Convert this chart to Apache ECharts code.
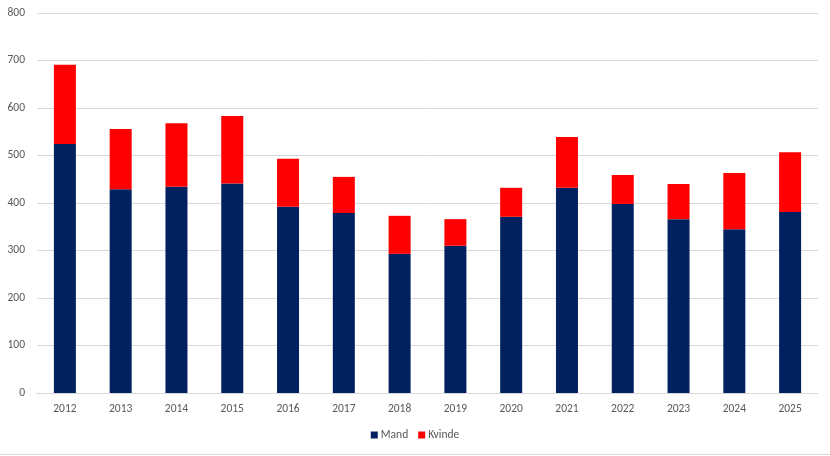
<!DOCTYPE html>
<html><head><meta charset="utf-8">
<script src="https://cdn.jsdelivr.net/npm/echarts@6/dist/echarts.min.js"></script>
<style>html,body{margin:0;padding:0;background:#fff}#c{width:830px;height:456px}</style>
</head><body><div id="c"></div>
<script>
const years = ['2012','2013','2014','2015','2016','2017','2018','2019','2020','2021','2022','2023','2024','2025'];
const mand = [524,429,434,441,392,379,293,310,371,432,398,366,345,381];
const kvinde = [167,127,134,142,101,76,80,56,61,107,61,74,118,126];
const yTicks = [0,100,200,300,400,500,600,700,800];

const chart = echarts.init(document.getElementById('c'));
const font = 'Calibri, Carlito, "Liberation Sans", Arial, sans-serif';
chart.setOption({
  animation: false,
  textStyle: {fontFamily: font},
  grid: {left: 37, right: 12, top: 13, bottom: 63, containLabel: false},
  legend: {
    bottom: 10, left: 'center', itemWidth: 7, itemHeight: 7, itemGap: 10,
    icon: 'rect',
    textStyle: {color: '#595959', fontSize: 11.5, fontFamily: font, padding: [0,0,0,-2]},
    data: ['Mand','Kvinde']
  },
  xAxis: {
    type: 'category', data: years,
    axisLine: {lineStyle: {color: '#d9d9d9'}},
    axisTick: {show: false},
    axisLabel: {color: '#595959', fontSize: 11.5, margin: 10}
  },
  yAxis: {
    type: 'value', min: yTicks[0], max: yTicks[yTicks.length-1], interval: 100,
    axisLine: {show: false}, axisTick: {show: false},
    splitLine: {lineStyle: {color: '#d9d9d9'}},
    axisLabel: {color: '#595959', fontSize: 11.5, margin: 12}
  },
  series: [
    {name: 'Mand', type: 'bar', stack: 't', data: mand, barWidth: 22, itemStyle: {color: '#002060'}},
    {name: 'Kvinde', type: 'bar', stack: 't', data: kvinde, barWidth: 22, itemStyle: {color: '#ff0000'}}
  ],
  graphic: [{type: 'rect', shape: {x: 0, y: 454, width: 830, height: 1}, style: {fill: '#d9d9d9'}, silent: true}]
});
</script></body></html>
